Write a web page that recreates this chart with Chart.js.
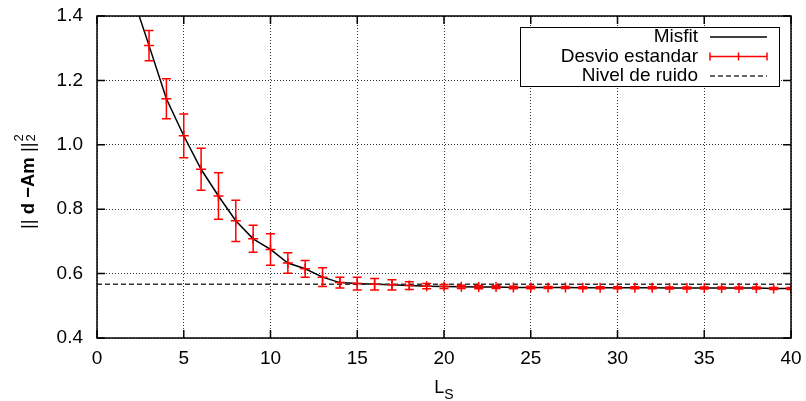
<!DOCTYPE html>
<html>
<head>
<meta charset="utf-8">
<script src="https://cdn.jsdelivr.net/npm/chart.js@4/dist/chart.umd.min.js"></script>
<style>
  html, body { margin: 0; padding: 0; background: #fff; }
  #wrap { width: 806px; height: 401px; }
</style>
</head>
<body>
<div id="wrap"><canvas id="chart"></canvas></div>
<script>
// L_S values and the misfit curve
const ls = [2, 3, 4, 5, 6, 7, 8, 9, 10, 11, 12, 13, 14, 15, 16, 17, 18, 19, 20, 21,
  22, 23, 24, 25, 26, 27, 28, 29, 30, 31, 32, 33, 34, 35, 36, 37, 38, 39, 40];
const misfit = [1.47, 1.308, 1.143, 1.028, 0.924, 0.841, 0.764, 0.708, 0.675, 0.633,
  0.615, 0.589, 0.572, 0.569, 0.567, 0.565, 0.563, 0.561, 0.560, 0.559,
  0.558, 0.558, 0.557, 0.557, 0.557, 0.557, 0.556, 0.556, 0.556, 0.556,
  0.556, 0.555, 0.555, 0.555, 0.555, 0.555, 0.555, 0.554, 0.554];
// standard deviation for each L_S
const desvio = [0.05, 0.047, 0.062, 0.068, 0.065, 0.072, 0.064, 0.042, 0.049, 0.032,
  0.026, 0.029, 0.017, 0.020, 0.018, 0.016, 0.012, 0.008, 0.006, 0.005,
  0.005, 0.004, 0.004, 0.004, 0.003, 0.003, 0.003, 0.003, 0.003, 0.003,
  0.003, 0.003, 0.003, 0.003, 0.003, 0.003, 0.003, 0.003, 0.003];
const ruidoX = [0, 40];
const ruidoY = [0.567, 0.567];
const xTicks = [0, 5, 10, 15, 20, 25, 30, 35, 40];
const yTicks = [0.4, 0.6, 0.8, 1.0, 1.2, 1.4];
const legendLabels = ['Misfit', 'Desvio estandar', 'Nivel de ruido'];

const FONT = '"Liberation Sans", Arial, Helvetica, sans-serif';
const RED = '#ff0000';

const pts = (xs, ys) => xs.map((v, i) => ({ x: v, y: ys[i] }));

const decor = {
  id: 'decor',
  afterDatasetsDraw(chart){
    const { ctx, chartArea: a, scales: { x, y } } = chart;
    // error bars
    ctx.save();
    ctx.beginPath();
    ctx.rect(a.left, a.top, a.right - a.left, a.bottom - a.top);
    ctx.clip();
    ctx.strokeStyle = RED;
    ctx.lineWidth = 1.5;
    ls.forEach((v, i) => {
      const px = x.getPixelForValue(v);
      const y1 = y.getPixelForValue(misfit[i] + desvio[i]);
      const y2 = y.getPixelForValue(misfit[i] - desvio[i]);
      ctx.beginPath();
      ctx.moveTo(px, y1); ctx.lineTo(px, y2);
      ctx.moveTo(px - 4.5, y1); ctx.lineTo(px + 4.5, y1);
      ctx.moveTo(px - 4.5, y2); ctx.lineTo(px + 4.5, y2);
      ctx.stroke();
    });
    ctx.restore();

    // frame with inward ticks on all sides
    ctx.save();
    ctx.strokeStyle = '#000';
    ctx.lineWidth = 1.5;
    ctx.strokeRect(a.left, a.top, a.right - a.left, a.bottom - a.top);
    ctx.beginPath();
    xTicks.forEach(v => {
      const px = x.getPixelForValue(v);
      ctx.moveTo(px, a.bottom); ctx.lineTo(px, a.bottom - 8);
      ctx.moveTo(px, a.top); ctx.lineTo(px, a.top + 8);
    });
    yTicks.forEach(v => {
      const py = y.getPixelForValue(v);
      ctx.moveTo(a.left, py); ctx.lineTo(a.left + 8, py);
      ctx.moveTo(a.right, py); ctx.lineTo(a.right - 8, py);
    });
    ctx.stroke();
    ctx.restore();
  },
  afterDraw(chart){
    const { ctx, chartArea: a } = chart;
    ctx.save();
    // legend box
    const bx = 520, by = 27, bw = 259, bh = 59;
    ctx.fillStyle = '#fff';
    ctx.fillRect(bx, by, bw, bh);
    ctx.strokeStyle = '#000';
    ctx.lineWidth = 1;
    ctx.strokeRect(bx + 0.5, by + 0.5, bw, bh);
    ctx.font = '19px ' + FONT;
    ctx.fillStyle = '#000';
    ctx.textAlign = 'right';
    ctx.textBaseline = 'middle';
    const rows = [37, 56.5, 76];
    legendLabels.forEach((t, i) => ctx.fillText(t, 698, rows[i]));
    const s1 = 710, s2 = 767;
    ctx.lineWidth = 1.5;
    ctx.beginPath(); ctx.moveTo(s1, rows[0]); ctx.lineTo(s2, rows[0]); ctx.stroke();
    ctx.strokeStyle = RED;
    ctx.beginPath();
    ctx.moveTo(s1, rows[1]); ctx.lineTo(s2, rows[1]);
    [s1, (s1 + s2) / 2, s2].forEach(sx => { ctx.moveTo(sx, rows[1] - 4); ctx.lineTo(sx, rows[1] + 4); });
    ctx.stroke();
    ctx.strokeStyle = '#333';
    ctx.setLineDash([5, 3]);
    ctx.beginPath(); ctx.moveTo(s1, rows[2]); ctx.lineTo(s2, rows[2]); ctx.stroke();
    ctx.setLineDash([]);

    // x title: L_S
    ctx.fillStyle = '#000';
    ctx.textAlign = 'left';
    ctx.textBaseline = 'alphabetic';
    ctx.font = '18px ' + FONT;
    const wL = ctx.measureText('L').width;
    ctx.font = '14px ' + FONT;
    const wS = ctx.measureText('S').width;
    const cx = (a.left + a.right) / 2;
    const tx = cx - (wL + wS) / 2;
    ctx.font = '18px ' + FONT;
    ctx.fillText('L', tx, 393);
    ctx.font = '14px ' + FONT;
    ctx.fillText('S', tx + wL, 399);

    // y title: || d -Am ||_2^2
    const parts = [
      { t: '|| ', f: '18.5px ' + FONT },
      { t: 'd \u2212Am', f: 'bold 18.5px ' + FONT },
      { t: ' ||', f: '18.5px ' + FONT }
    ];
    ctx.translate(34, 229);
    ctx.rotate(-Math.PI / 2);
    let ox = 0;
    parts.forEach(p => { ctx.font = p.f; ctx.fillText(p.t, ox, 0); ox += ctx.measureText(p.t).width; });
    ctx.font = '13px ' + FONT;
    ctx.fillText('2', ox + 1, 1);
    ctx.fillText('2', ox + 1, -11);
    ctx.restore();
  }
};

new Chart(document.getElementById('chart'), {
  type: 'scatter',
  data: {
    datasets: [
      {
        label: legendLabels[0],
        data: pts(ls, misfit),
        showLine: true,
        borderColor: '#000',
        borderWidth: 1.5,
        pointRadius: 0,
        order: 3
      },
      {
        label: legendLabels[2],
        data: pts(ruidoX, ruidoY),
        showLine: true,
        borderColor: '#333',
        borderWidth: 1.5,
        borderDash: [5, 3],
        pointRadius: 0,
        order: 2
      },
      {
        label: legendLabels[1],
        data: pts(ls, misfit),
        showLine: false,
        pointStyle: 'cross',
        pointRadius: 5,
        borderColor: RED,
        borderWidth: 1.5,
        order: 1
      }
    ]
  },
  options: {
    responsive: true,
    maintainAspectRatio: false,
    animation: false,
    layout: { padding: { left: 0, right: 15, top: 16, bottom: 0 } },
    plugins: { legend: { display: false }, tooltip: { enabled: false } },
    scales: {
      x: {
        type: 'linear', min: 0, max: 40,
        afterFit: s => { s.height = 63; s.paddingLeft = 0; s.paddingRight = 0; },
        afterBuildTicks: s => { s.ticks = xTicks.map(v => ({ value: v })); },
        ticks: { color: '#000', font: { size: 19, family: FONT }, padding: 9, maxRotation: 0 },
        grid: { color: '#333', lineWidth: 1, drawTicks: false },
        border: { display: false, dash: [1, 2] }
      },
      y: {
        type: 'linear', min: 0.4, max: 1.4,
        afterFit: s => { s.width = 97; s.paddingTop = 0; s.paddingBottom = 0; },
        afterBuildTicks: s => { s.ticks = yTicks.map(v => ({ value: v })); },
        ticks: { color: '#000', font: { size: 19, family: FONT }, padding: 14, callback: v => v.toFixed(1) },
        grid: { color: '#333', lineWidth: 1, drawTicks: false },
        border: { display: false, dash: [1, 2] }
      }
    }
  },
  plugins: [decor]
});
</script>
</body>
</html>
